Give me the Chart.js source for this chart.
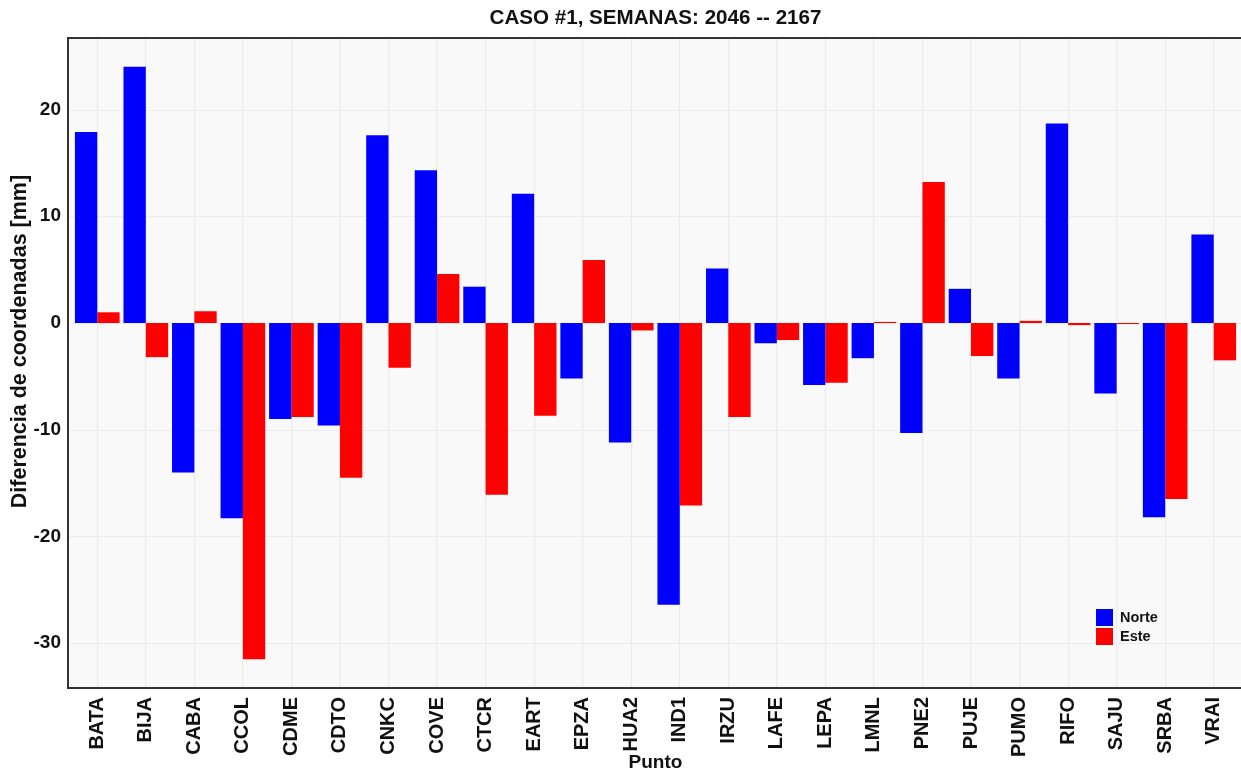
<!DOCTYPE html>
<html>
<head>
<meta charset="utf-8">
<title>CASO #1</title>
<script src="https://cdn.jsdelivr.net/npm/chart.js@4.4.1/dist/chart.umd.min.js"></script>
<style>
  html, body { margin: 0; padding: 0; background: #fff; }
  #wrap { width: 1241px; height: 772px; }
</style>
</head>
<body>
<div id="wrap"><canvas id="diffChart" width="1241" height="772"></canvas></div>
<script>
// Stations and coordinate differences (mm)
const puntos = ['BATA', 'BIJA', 'CABA', 'CCOL', 'CDME', 'CDTO', 'CNKC', 'COVE', 'CTCR', 'EART', 'EPZA', 'HUA2',
  'IND1', 'IRZU', 'LAFE', 'LEPA', 'LMNL', 'PNE2', 'PUJE', 'PUMO', 'RIFO', 'SAJU', 'SRBA', 'VRAI'];
const norte = [17.9, 24.0, -14.0, -18.3, -9.0, -9.6, 17.6, 14.3, 3.4, 12.1, -5.2, -11.2,
  -26.4, 5.1, -1.9, -5.8, -3.3, -10.3, 3.2, -5.2, 18.7, -6.6, -18.2, 8.3];
const este = [1.0, -3.2, 1.1, -31.5, -8.8, -14.5, -4.2, 4.6, -16.1, -8.7, 5.9, -0.7,
  -17.1, -8.8, -1.6, -5.6, 0.1, 13.2, -3.1, 0.2, -0.2, -0.1, -16.5, -3.5];
const yTicks = [-30, -20, -10, 0, 10, 20];

const FONT = '"Liberation Sans", Arial, Helvetica, sans-serif';
const PANEL_BG = '#f9f9f9';
const GRID = '#ebebeb';
const Y_TITLE = 'Diferencia de coordenadas [mm]';

// panel background, horizontal grid, border, y title and legend (ggplot look)
const panelPlugin = {
  id: 'panel',
  beforeDraw(chart) {
    const { ctx, chartArea: a, scales: { y } } = chart;
    const left = a.left - 5;
    const right = chart.width;
    ctx.save();
    ctx.fillStyle = PANEL_BG;
    ctx.fillRect(left, a.top, right - left, a.bottom - a.top);
    ctx.strokeStyle = GRID;
    ctx.lineWidth = 1.2;
    yTicks.forEach(v => {
      const py = Math.round(y.getPixelForValue(v)) + 0.5;
      ctx.beginPath();
      ctx.moveTo(left, py);
      ctx.lineTo(right, py);
      ctx.stroke();
    });
    ctx.restore();
  },
  afterDraw(chart) {
    const { ctx, chartArea: a } = chart;
    const left = a.left - 5;
    ctx.save();
    ctx.strokeStyle = '#333333';
    ctx.lineWidth = 2;
    ctx.beginPath();
    ctx.moveTo(chart.width + 2, a.top);
    ctx.lineTo(left, a.top);
    ctx.lineTo(left, a.bottom);
    ctx.lineTo(chart.width + 2, a.bottom);
    ctx.stroke();

    // y axis title
    ctx.save();
    ctx.translate(20, a.top + (a.bottom - a.top) * 0.467);
    ctx.rotate(-Math.PI / 2);
    ctx.font = 'bold 21.5px ' + FONT;
    ctx.fillStyle = '#111';
    ctx.textAlign = 'center';
    ctx.textBaseline = 'middle';
    ctx.fillText(Y_TITLE, 0, 0);
    ctx.restore();

    // legend
    const lx = a.right - 142;
    let ly = a.bottom - 79;
    ctx.font = 'bold 14.5px ' + FONT;
    ctx.textBaseline = 'middle';
    chart.data.datasets.forEach(ds => {
      ctx.fillStyle = ds.backgroundColor;
      ctx.fillRect(lx, ly, 17, 17);
      ctx.fillStyle = '#111';
      ctx.fillText(ds.label, lx + 24, ly + 9);
      ly += 19;
    });
    ctx.restore();
  }
};

const ctx = document.getElementById('diffChart').getContext('2d');
new Chart(ctx, {
  type: 'bar',
  data: {
    labels: puntos,
    datasets: [
      { label: 'Norte', data: norte, backgroundColor: '#0000ff', categoryPercentage: 0.92, barPercentage: 1.0 },
      { label: 'Este', data: este, backgroundColor: '#ff0000', categoryPercentage: 0.92, barPercentage: 1.0 }
    ]
  },
  options: {
    responsive: false,
    animation: false,
    devicePixelRatio: 1,
    layout: { padding: { top: 0, right: 3, left: 0, bottom: 0 } },
    plugins: {
      legend: { display: false },
      tooltip: { enabled: false },
      title: {
        display: true,
        fullSize: false,
        text: 'CASO #1, SEMANAS: 2046 -- 2167',
        color: '#111',
        font: { family: FONT, size: 20.6, weight: 'bold', lineHeight: 1.2 },
        padding: { top: 6, bottom: 7.3 }
      }
    },
    scales: {
      x: {
        offset: true,
        grid: { display: true, offset: false, color: GRID, lineWidth: 1.2, drawTicks: false },
        border: { display: false },
        ticks: {
          autoSkip: false,
          maxRotation: 90,
          minRotation: 90,
          padding: 9,
          color: '#111',
          font: { family: FONT, size: 20, weight: 'bold' }
        },
        title: {
          display: true,
          text: 'Punto',
          color: '#111',
          font: { family: FONT, size: 19, weight: 'bold', lineHeight: 1 },
          padding: { top: 0, bottom: 0 }
        },
        afterFit(scale) {
          scale.height = 84;
          scale.paddingLeft = 0;
          scale.paddingRight = 0;
        }
      },
      y: {
        min: -34.2,
        max: 26.7,
        grid: { display: false, drawTicks: false },
        border: { display: false },
        ticks: {
          stepSize: 10,
          padding: 12,
          color: '#111',
          font: { family: FONT, size: 19, weight: 'bold' }
        },
        afterBuildTicks(scale) {
          scale.ticks = yTicks.map(v => ({ value: v }));
        },
        afterFit(scale) { scale.width = 73; }
      }
    }
  },
  plugins: [panelPlugin]
});
</script>
</body>
</html>
